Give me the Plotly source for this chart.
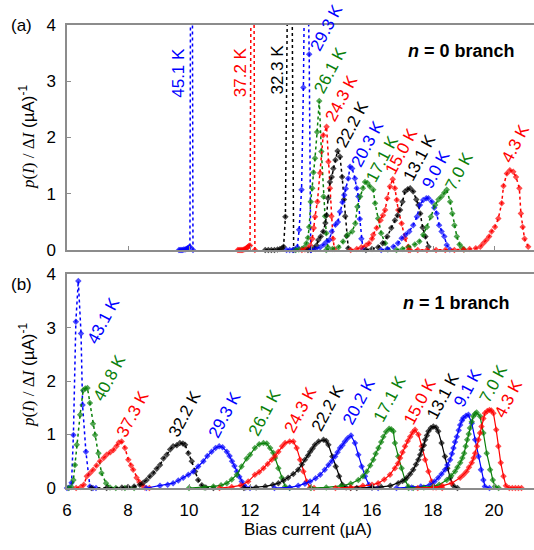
import plotly.graph_objects as go

# ---------------- data: (a) n = 0 branch ----------------
a45_1_x = [9.67, 9.71, 9.75, 9.79, 9.83, 9.87, 9.91, 9.95, 10.0, 10.03, 10.08, 10.13]
a45_1_y = [0, 0, 0, 0, 0.01, 0.01, 0.02, 0.03, 0.05, 0.06, 12.0, 0]
a37_2_x = [11.6, 11.64, 11.68, 11.72, 11.76, 11.8, 11.84, 11.88, 11.92, 11.96, 12.0, 12.08, 12.16]
a37_2_y = [0, 0, 0, 0, 0, 0.01, 0.02, 0.03, 0.05, 0.07, 0.08, 12.0, 0]
a32_3_x = [12.5, 12.6, 12.7, 12.8, 12.9, 12.98, 13.05, 13.1, 13.16, 13.32, 13.43]
a32_3_y = [0, 0, 0, 0, 0.01, 0.02, 0.03, 0.06, 0.59, 10.0, 0]
a29_3_x = [13.2, 13.3, 13.4, 13.48, 13.55, 13.61, 13.69, 13.75, 13.83, 13.94, 13.99]
a29_3_y = [0, 0, 0, 0.01, 0.05, 0.36, 1.07, 2.89, 7.0, 3.48, 0]
a26_1_x = [13.5, 13.6, 13.7, 13.78, 13.85, 13.9, 13.94, 13.99, 14.04, 14.08, 14.13, 14.2, 14.27, 14.34, 14.41, 14.46, 14.5, 14.55]
a26_1_y = [0, 0.01, 0.02, 0.05, 0.12, 0.22, 0.41, 0.86, 1.1, 1.38, 1.63, 2.1, 2.65, 1.75, 0.95, 0.6, 0.3, 0.05]
a24_3_x = [13.7, 13.8, 13.9, 13.98, 14.04, 14.09, 14.13, 14.21, 14.3, 14.4, 14.51, 14.57, 14.62, 14.67, 14.72, 14.77]
a24_3_y = [0, 0.01, 0.03, 0.08, 0.2, 0.39, 0.59, 0.86, 1.37, 2.04, 2.19, 1.57, 1.1, 0.6, 0.2, 0.02]
a22_2_x = [13.9, 14.0, 14.1, 14.18, 14.24, 14.32, 14.4, 14.47, 14.51, 14.56, 14.62, 14.68, 14.73, 14.8, 14.87, 14.95, 15.02, 15.08, 15.12, 15.17, 15.22]
a22_2_y = [0, 0.01, 0.03, 0.08, 0.18, 0.24, 0.33, 0.48, 0.62, 0.92, 1.21, 1.3, 1.45, 1.6, 1.76, 1.66, 1.3, 0.9, 0.6, 0.25, 0.03]
a20_3_x = [14.0, 14.15, 14.3, 14.42, 14.52, 14.6, 14.68, 14.8, 14.88, 14.95, 15.03, 15.09, 15.14, 15.22, 15.28, 15.35, 15.44, 15.5, 15.55, 15.6, 15.65, 15.7]
a20_3_y = [0, 0.02, 0.05, 0.1, 0.15, 0.18, 0.33, 0.45, 0.5, 0.68, 0.85, 0.98, 1.09, 1.27, 1.48, 1.45, 1.27, 1.1, 0.95, 0.55, 0.2, 0.02]
a17_1_x = [14.5, 14.7, 14.9, 15.05, 15.2, 15.35, 15.45, 15.52, 15.61, 15.7, 15.77, 15.85, 15.93, 16.04, 16.1, 16.2, 16.3, 16.43, 16.52]
a17_1_y = [0, 0.02, 0.05, 0.15, 0.27, 0.33, 0.47, 0.77, 0.95, 1.1, 1.21, 1.19, 1.13, 1.07, 0.83, 0.56, 0.3, 0.12, 0.01]
a15_0_x = [15.3, 15.5, 15.65, 15.8, 15.9, 16.0, 16.04, 16.15, 16.28, 16.36, 16.43, 16.5, 16.59, 16.68, 16.75, 16.81, 16.86, 16.97, 17.08, 17.19, 17.25]
a15_0_y = [0, 0.02, 0.05, 0.08, 0.12, 0.2, 0.27, 0.39, 0.53, 0.62, 0.71, 0.92, 1.13, 1.26, 1.1, 0.89, 0.71, 0.47, 0.21, 0.06, 0]
a13_1_x = [15.8, 16.0, 16.2, 16.35, 16.5, 16.63, 16.75, 16.84, 16.92, 17.0, 17.08, 17.17, 17.25, 17.35, 17.45, 17.52, 17.58, 17.66, 17.75, 17.85]
a13_1_y = [0, 0.02, 0.05, 0.12, 0.24, 0.39, 0.53, 0.62, 0.71, 0.86, 1.04, 1.08, 1.1, 1.04, 0.9, 0.8, 0.65, 0.4, 0.24, 0.06]
a9_0_x = [16.3, 16.5, 16.7, 16.85, 16.97, 17.1, 17.22, 17.35, 17.47, 17.57, 17.68, 17.78, 17.85, 17.96, 18.04, 18.12, 18.2, 18.28, 18.37, 18.45, 18.55]
a9_0_y = [0, 0.02, 0.06, 0.12, 0.21, 0.27, 0.33, 0.44, 0.59, 0.8, 0.89, 0.92, 0.92, 0.86, 0.75, 0.65, 0.44, 0.33, 0.24, 0.09, 0.01]
a7_0_x = [16.8, 17.0, 17.2, 17.4, 17.55, 17.68, 17.8, 17.93, 18.07, 18.18, 18.28, 18.37, 18.45, 18.56, 18.63, 18.7, 18.78, 18.87, 18.95, 19.02]
a7_0_y = [0, 0.02, 0.05, 0.1, 0.15, 0.27, 0.41, 0.59, 0.8, 0.9, 0.95, 1.02, 1.07, 0.86, 0.65, 0.44, 0.24, 0.1, 0.04, 0.01]
a4_3_x = [17.2, 17.5, 17.8, 18.1, 18.4, 18.7, 19.0, 19.2, 19.4, 19.55, 19.65, 19.75, 19.84, 19.92, 20.03, 20.14, 20.25, 20.31, 20.42, 20.52, 20.63, 20.72, 20.83, 20.88, 20.94, 21.0, 21.12]
a4_3_y = [0, 0, 0, 0, 0, 0, 0.01, 0.02, 0.03, 0.06, 0.12, 0.18, 0.24, 0.33, 0.41, 0.56, 0.83, 1.14, 1.36, 1.42, 1.39, 1.3, 1.1, 0.65, 0.41, 0.2, 0.06]

# ---------------- data: (b) n = 1 branch ----------------
b43_1_x = [6.0, 6.08, 6.15, 6.21, 6.29, 6.37, 6.46, 6.51, 6.62, 6.75, 6.85, 6.95]
b43_1_y = [0, 0.01, 0.1, 0.99, 3.11, 3.87, 2.89, 1.55, 0.68, 0.03, 0, 0]
b40_8_x = [6.05, 6.15, 6.21, 6.26, 6.32, 6.43, 6.53, 6.6, 6.67, 6.75, 6.85, 6.92, 7.03, 7.13, 7.28, 7.41, 7.6, 7.9, 8.2]
b40_8_y = [0, 0.02, 0.15, 0.43, 0.81, 1.37, 1.83, 1.86, 1.87, 1.59, 1.2, 0.99, 0.65, 0.28, 0.09, 0.01, 0, 0, 0]
b37_3_x = [6.3, 6.45, 6.55, 6.65, 6.76, 6.86, 6.97, 7.08, 7.2, 7.3, 7.42, 7.52, 7.62, 7.7, 7.79, 7.9, 8.01, 8.1, 8.17, 8.28, 8.37, 8.45, 8.55, 8.7]
b37_3_y = [0, 0.02, 0.06, 0.22, 0.28, 0.34, 0.42, 0.5, 0.56, 0.62, 0.67, 0.71, 0.78, 0.85, 0.87, 0.75, 0.53, 0.42, 0.34, 0.19, 0.11, 0.06, 0.01, 0]
b32_2_x = [6.8, 7.3, 7.8, 8.0, 8.2, 8.39, 8.5, 8.61, 8.72, 8.83, 8.94, 9.05, 9.16, 9.27, 9.38, 9.48, 9.6, 9.7, 9.8, 9.87, 9.98, 10.09, 10.2, 10.3, 10.42, 10.55, 10.8]
b32_2_y = [0, 0, 0.01, 0.02, 0.03, 0.06, 0.1, 0.15, 0.22, 0.28, 0.36, 0.43, 0.55, 0.62, 0.72, 0.78, 0.8, 0.84, 0.83, 0.81, 0.65, 0.5, 0.31, 0.15, 0.05, 0.01, 0]
b29_3_x = [8.6, 9.05, 9.3, 9.48, 9.65, 9.81, 9.98, 10.14, 10.3, 10.47, 10.6, 10.74, 10.87, 10.99, 11.1, 11.24, 11.33, 11.41, 11.49, 11.57, 11.65, 11.73, 11.8, 11.86, 12.0]
b29_3_y = [0, 0.04, 0.06, 0.09, 0.14, 0.19, 0.25, 0.31, 0.4, 0.5, 0.6, 0.68, 0.75, 0.78, 0.76, 0.68, 0.6, 0.5, 0.41, 0.31, 0.21, 0.12, 0.05, 0.01, 0]
b26_1_x = [10.0, 10.5, 10.8, 11.05, 11.24, 11.4, 11.57, 11.72, 11.89, 12.0, 12.16, 12.3, 12.44, 12.55, 12.66, 12.76, 12.82, 12.93, 13.04, 13.15, 13.3]
b26_1_y = [0, 0.01, 0.03, 0.05, 0.09, 0.16, 0.25, 0.4, 0.55, 0.62, 0.75, 0.82, 0.84, 0.83, 0.75, 0.66, 0.56, 0.37, 0.19, 0.03, 0]
b24_3_x = [11.0, 11.4, 11.7, 11.94, 12.16, 12.3, 12.44, 12.58, 12.71, 12.82, 12.93, 13.05, 13.15, 13.3, 13.42, 13.53, 13.64, 13.75, 13.86, 13.97, 14.1]
b24_3_y = [0, 0.02, 0.05, 0.12, 0.25, 0.3, 0.37, 0.45, 0.53, 0.6, 0.68, 0.78, 0.84, 0.87, 0.87, 0.75, 0.53, 0.31, 0.12, 0.01, 0]
b22_2_x = [11.8, 12.2, 12.5, 12.75, 12.93, 13.1, 13.25, 13.42, 13.58, 13.7, 13.8, 13.9, 13.97, 14.05, 14.13, 14.25, 14.41, 14.5, 14.57, 14.7, 14.81, 14.92, 15.03, 15.15, 15.3]
b22_2_y = [0, 0.01, 0.03, 0.06, 0.09, 0.14, 0.19, 0.26, 0.34, 0.44, 0.53, 0.61, 0.68, 0.74, 0.81, 0.87, 0.9, 0.88, 0.81, 0.59, 0.4, 0.22, 0.06, 0.01, 0]
b20_2_x = [12.8, 13.3, 13.58, 13.8, 13.97, 14.15, 14.3, 14.45, 14.57, 14.68, 14.79, 14.87, 14.95, 15.03, 15.11, 15.2, 15.31, 15.44, 15.55, 15.66, 15.77, 15.9, 16.0, 16.2]
b20_2_y = [0, 0.01, 0.04, 0.08, 0.12, 0.18, 0.25, 0.34, 0.43, 0.5, 0.59, 0.67, 0.75, 0.8, 0.87, 0.93, 0.98, 0.84, 0.62, 0.4, 0.22, 0.06, 0.01, 0]
b17_1_x = [14.0, 14.5, 15.0, 15.3, 15.55, 15.7, 15.83, 15.94, 16.04, 16.12, 16.21, 16.3, 16.37, 16.46, 16.56, 16.63, 16.7, 16.75, 16.86, 16.97, 17.08, 17.19, 17.35]
b17_1_y = [0, 0.01, 0.04, 0.08, 0.15, 0.22, 0.31, 0.42, 0.53, 0.64, 0.75, 0.86, 0.96, 1.05, 1.11, 1.1, 1.06, 0.84, 0.59, 0.37, 0.15, 0.03, 0]
b15_0_x = [14.8, 15.3, 15.7, 16.0, 16.2, 16.4, 16.59, 16.75, 16.85, 16.92, 17.0, 17.08, 17.17, 17.25, 17.33, 17.41, 17.52, 17.63, 17.74, 17.85, 17.96, 18.1, 18.3]
b15_0_y = [0, 0.01, 0.04, 0.06, 0.09, 0.16, 0.25, 0.37, 0.46, 0.56, 0.67, 0.78, 0.88, 0.96, 1.04, 1.09, 1.0, 0.78, 0.53, 0.31, 0.12, 0.01, 0]
b13_1_x = [15.5, 16.0, 16.3, 16.6, 16.86, 17.0, 17.14, 17.25, 17.35, 17.44, 17.52, 17.58, 17.63, 17.7, 17.74, 17.8, 17.85, 17.93, 18.01, 18.1, 18.17, 18.28, 18.39, 18.47, 18.56, 18.67, 18.8]
b13_1_y = [0, 0.01, 0.02, 0.04, 0.09, 0.13, 0.19, 0.26, 0.34, 0.44, 0.53, 0.62, 0.71, 0.8, 0.9, 0.98, 1.06, 1.12, 1.15, 1.13, 1.06, 0.84, 0.59, 0.37, 0.19, 0.04, 0]
b9_1_x = [16.8, 17.3, 17.6, 17.9, 18.05, 18.17, 18.28, 18.39, 18.47, 18.56, 18.62, 18.67, 18.72, 18.78, 18.84, 18.89, 18.95, 18.99, 19.08, 19.16, 19.27, 19.38, 19.49, 19.57, 19.65, 19.7, 19.85]
b9_1_y = [0, 0.01, 0.03, 0.06, 0.12, 0.19, 0.26, 0.34, 0.43, 0.53, 0.64, 0.75, 0.86, 0.96, 1.08, 1.18, 1.26, 1.31, 1.35, 1.37, 1.21, 0.9, 0.59, 0.34, 0.15, 0.03, 0]
b7_0_x = [17.2, 17.7, 18.0, 18.2, 18.45, 18.6, 18.72, 18.8, 18.89, 18.96, 19.02, 19.07, 19.12, 19.17, 19.21, 19.27, 19.32, 19.38, 19.43, 19.54, 19.65, 19.76, 19.87, 19.96, 20.03, 20.15]
b7_0_y = [0, 0.01, 0.03, 0.06, 0.15, 0.23, 0.31, 0.39, 0.47, 0.56, 0.65, 0.78, 0.9, 1.01, 1.12, 1.24, 1.34, 1.39, 1.41, 1.34, 1.03, 0.65, 0.34, 0.15, 0.03, 0]
b4_3_x = [17.5, 18.0, 18.3, 18.61, 18.89, 19.0, 19.1, 19.18, 19.27, 19.33, 19.38, 19.44, 19.49, 19.54, 19.59, 19.65, 19.7, 19.78, 19.85, 19.91, 19.98, 20.07, 20.14, 20.22, 20.31, 20.39, 20.5, 20.6, 20.7, 20.8, 20.9]
b4_3_y = [0, 0.01, 0.04, 0.09, 0.19, 0.25, 0.31, 0.39, 0.47, 0.56, 0.65, 0.78, 0.9, 1.03, 1.15, 1.3, 1.4, 1.44, 1.46, 1.45, 1.4, 1.09, 0.78, 0.47, 0.22, 0.04, 0, 0, 0, 0, 0]

top_labels = ["45.1 K", "37.2 K", "32.3 K", "29.3 K", "26.1 K", "24.3 K", "22.2 K",
              "20.3 K", "17.1 K", "15.0 K", "13.1 K", "9.0 K", "7.0 K", "4.3 K"]
bot_labels = ["43.1 K", "40.8 K", "37.3 K", "32.2 K", "29.3 K", "26.1 K", "24.3 K", "22.2 K",
              "20.2 K", "17.1 K", "15.0 K", "13.1 K", "9.1 K", "7.0 K", "4.3 K"]

# ---------------- styling ----------------
BLUE, RED, BLACK, GREEN = "#0000ff", "#ff0000", "#000000", "#0a800a"
top_series = [(a45_1_x, a45_1_y), (a37_2_x, a37_2_y), (a32_3_x, a32_3_y), (a29_3_x, a29_3_y),
              (a26_1_x, a26_1_y), (a24_3_x, a24_3_y), (a22_2_x, a22_2_y), (a20_3_x, a20_3_y),
              (a17_1_x, a17_1_y), (a15_0_x, a15_0_y), (a13_1_x, a13_1_y), (a9_0_x, a9_0_y),
              (a7_0_x, a7_0_y), (a4_3_x, a4_3_y)]
top_colors = [BLUE, RED, BLACK, BLUE, GREEN, RED, BLACK, BLUE, GREEN, RED, BLACK, BLUE, GREEN, RED]
top_label_pos = [(9.67, 3.15, -90), (11.67, 3.16, -90), (12.87, 3.2, -90), (14.52, 3.95, -62),
                 (14.62, 3.2, -62), (15.0, 2.69, -62), (15.34, 2.24, -62), (15.85, 1.9, -62),
                 (16.34, 1.63, -62), (16.97, 1.75, -62), (17.57, 1.64, -62), (18.1, 1.43, -62),
                 (18.85, 1.4, -62), (20.7, 1.9, -62)]

bot_series = [(b43_1_x, b43_1_y), (b40_8_x, b40_8_y), (b37_3_x, b37_3_y), (b32_2_x, b32_2_y),
              (b29_3_x, b29_3_y), (b26_1_x, b26_1_y), (b24_3_x, b24_3_y), (b22_2_x, b22_2_y),
              (b20_2_x, b20_2_y), (b17_1_x, b17_1_y), (b15_0_x, b15_0_y), (b13_1_x, b13_1_y),
              (b9_1_x, b9_1_y), (b7_0_x, b7_0_y), (b4_3_x, b4_3_y)]
bot_colors = [BLUE, GREEN, RED, BLACK, BLUE, GREEN, RED, BLACK, BLUE, GREEN, RED, BLACK, BLUE, GREEN, RED]
bot_dotted = [True, True, True, True] + [False] * 11
bot_label_pos = [(7.19, 3.14), (7.41, 2.06), (8.17, 1.39), (9.87, 1.39), (11.18, 1.37),
                 (12.49, 1.41), (13.67, 1.46), (14.54, 1.49), (15.57, 1.62), (16.59, 1.67),
                 (17.57, 1.62), (18.34, 1.73), (19.16, 1.87), (19.98, 1.96), (20.47, 1.68)]

FONT = "Arial, Liberation Sans, sans-serif"
SERIF = "Liberation Serif"
AXC = "#8c8c8c"
YMAX = 4

fig = go.Figure()


def add_series(xs, ys, color, xa, ya, dash, width):
    sizes = [5 if v <= YMAX else 0 for v in ys]
    fig.add_trace(go.Scatter(
        x=xs, y=ys, mode="lines+markers", xaxis=xa, yaxis=ya,
        line=dict(color=color, dash=dash, width=width),
        marker=dict(symbol="diamond", size=sizes, color=color, line=dict(width=0)),
        cliponaxis=False, showlegend=False, hoverinfo="skip"))


for (xs, ys), c in zip(top_series, top_colors):
    add_series(xs, ys, c, "x", "y", "dot", 1.5)
for (xs, ys), c, d in zip(bot_series, bot_colors, bot_dotted):
    add_series(xs, ys, c, "x2", "y2", "dot" if d else "solid", 1.5 if d else 1.2)

ann = []
for txt, c, (x, y, a) in zip(top_labels, top_colors, top_label_pos):
    ann.append(dict(x=x, y=y, xref="x", yref="y", text=txt, showarrow=False, textangle=a,
                    font=dict(family=FONT, size=17, color=c), xanchor="center", yanchor="middle"))
for txt, c, (x, y) in zip(bot_labels, bot_colors, bot_label_pos):
    ann.append(dict(x=x, y=y, xref="x2", yref="y2", text=txt, showarrow=False, textangle=-62,
                    font=dict(family=FONT, size=17, color=c), xanchor="center", yanchor="middle"))

ytitle = (f'<span style="font-family:{SERIF}"><i>p</i>(<i>I</i>) / Δ<i>I</i></span>'
          ' (µA)<sup>-1</sup>')
paper_txt = [
    ("(a)", -0.0985, 1.0, 0, 17, "black"),
    ("(b)", -0.0985, 0.4406, 0, 17, "black"),
    ("<b><i>n</i> = 0 branch</b>", 0.8458, 0.9438, 0, 18, "black"),
    ("<b><i>n</i> = 1 branch</b>", 0.834, 0.3985, 0, 18, "black"),
    ("Bias current (µA)", 0.515, -0.0907, 0, 17, "black"),
    (ytitle, -0.0857, 0.758, -90, 17, "black"),
    (ytitle, -0.0857, 0.244, -90, 17, "black"),
]
for t, x, y, a, s, c in paper_txt:
    ann.append(dict(x=x, y=y, xref="paper", yref="paper", text=t, showarrow=False, textangle=a,
                    font=dict(family=FONT, size=s, color=c), xanchor="center", yanchor="middle"))

xcommon = dict(range=[6, 21.31], tick0=6, dtick=2, ticks="inside", ticklen=4, tickcolor=AXC,
               showline=True, linecolor=AXC, linewidth=1.5, mirror=True, showgrid=False,
               zeroline=False, tickfont=dict(family=FONT, size=17, color="black"))
ycommon = dict(range=[0, YMAX], tick0=0, dtick=1, ticks="inside", ticklen=4, tickcolor=AXC,
               showline=True, linecolor=AXC, linewidth=1.5, showgrid=False, zeroline=False,
               tickfont=dict(family=FONT, size=17, color="black"), ticklabelstandoff=6)

fig.update_layout(
    width=534, height=550, margin=dict(l=67, r=0, t=25, b=62),
    plot_bgcolor="white", paper_bgcolor="white",
    xaxis=dict(domain=[0, 1], anchor="y", showticklabels=False, **xcommon),
    yaxis=dict(domain=[0.514, 1], anchor="x", **ycommon),
    xaxis2=dict(domain=[0, 1], anchor="y2", showticklabels=True, ticklabelstandoff=6, **xcommon),
    yaxis2=dict(domain=[0, 0.462], anchor="x2", **ycommon),
    annotations=ann,
    font=dict(family=FONT),
)

fig.write_html("out.html")
